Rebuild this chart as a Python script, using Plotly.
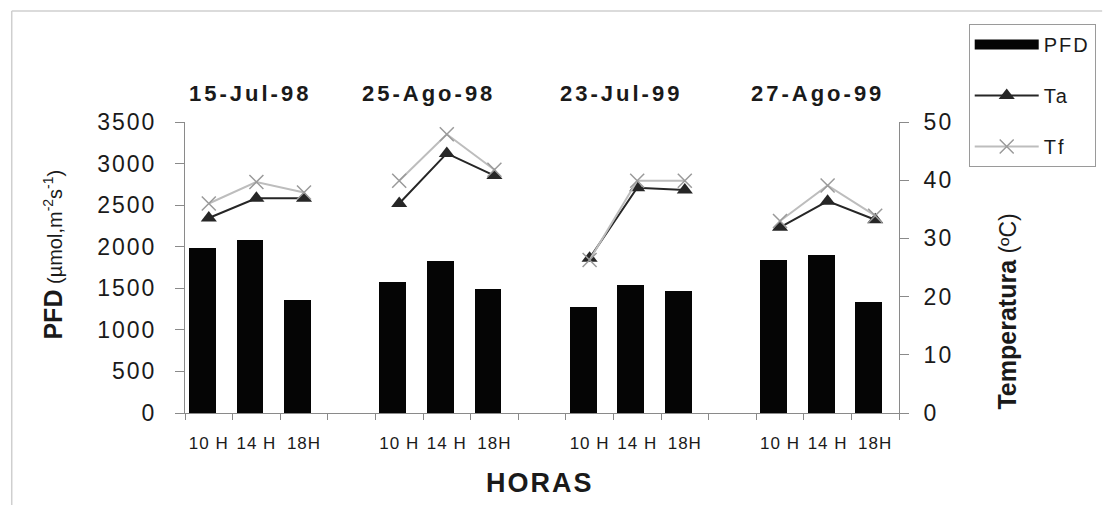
import plotly.graph_objects as go

# ---------------- data ----------------
dates = ["15-Jul-98", "25-Ago-98", "23-Jul-99", "27-Ago-99"]
hours = ["10 H", "14 H", "18H"]
pfd = [[1990, 2080, 1360],
       [1580, 1830, 1490],
       [1280, 1540, 1465],
       [1840, 1895, 1340]]
ta = [[33.5, 36.9, 36.9],
      [36.0, 44.6, 40.8],
      [26.6, 38.7, 38.3],
      [31.9, 36.4, 33.2]]
tf = [[36.0, 39.7, 37.9],
      [39.9, 47.9, 41.8],
      [26.3, 39.9, 39.9],
      [33.0, 39.1, 33.9]]
pfd_ticks = [0, 500, 1000, 1500, 2000, 2500, 3000, 3500]
temp_ticks = [0, 10, 20, 30, 40, 50]

# ---------------- build positions (3 hours + 1 blank slot per date) ----------------
slots = len(hours) + 1
xs, pfd_v, ta_v, tf_v, labels = [], [], [], [], []
for g in range(len(dates)):
    for h in range(len(hours)):
        xs.append(g * slots + h + 0.5)
        pfd_v.append(pfd[g][h])
        ta_v.append(ta[g][h])
        tf_v.append(tf[g][h])
        labels.append(hours[h])
    if g < len(dates) - 1:
        xs.append(g * slots + len(hours) + 0.5)
        pfd_v.append(None)
        ta_v.append(None)
        tf_v.append(None)
        labels.append("")
n_slots = len(dates) * slots - 1

FONT = "Arial, Liberation Sans, sans-serif"
TXT = "#1a1a1a"
AX = "#8a8a8a"

def spaced(t, sp):
    return f"<span style='letter-spacing:{sp}px'>{t}</span>"

fig = go.Figure()
fig.add_trace(go.Bar(
    x=xs, y=pfd_v, name="PFD", width=0.56, offset=-0.415,
    marker=dict(color="#050505", line=dict(width=0)),
    showlegend=False, yaxis="y"))
# legend entry for PFD drawn as a wide black block (like the original key)
fig.add_trace(go.Scatter(
    x=[None], y=[None], name=spaced("PFD", 2), mode="lines",
    line=dict(color="#050505", width=13), legendgroup="a", yaxis="y"))
fig.add_trace(go.Scatter(
    x=xs, y=ta_v, name=spaced("Ta", 2), mode="lines+markers", connectgaps=False,
    line=dict(color="#262626", width=2),
    marker=dict(symbol="triangle-up", size=14, color="#262626"),
    legendgroup="b", yaxis="y2"))
fig.add_trace(go.Scatter(
    x=xs, y=tf_v, name=spaced("Tf", 2), mode="lines+markers", connectgaps=False,
    line=dict(color="#bdbdbd", width=2),
    marker=dict(symbol="x-thin", size=14, line=dict(color="#9a9a9a", width=1.5)),
    legendgroup="c", yaxis="y2"))

# plot area in pixels
L, R, T, B = 185, 902, 122, 413
W, H = 1108, 505
def px(xp):
    return (xp - L) / (R - L)
def py(yp):
    return (B - yp) / (B - T)

tickx = [x for x, l in zip(xs, labels) if l]
tickt = [spaced(l, 1) for l in labels if l]

fig.update_layout(
    width=W, height=H,
    margin=dict(l=L, r=W - R, t=T, b=H - B, pad=0),
    paper_bgcolor="white", plot_bgcolor="white",
    font=dict(family=FONT, color=TXT),
    showlegend=True,
    bargap=0,
    xaxis=dict(
        range=[0, n_slots], tickmode="array", tickvals=tickx, ticktext=tickt,
        ticks="", ticklabelstandoff=15, tickfont=dict(size=17, color=TXT),
        showline=True, linecolor=AX, linewidth=1, showgrid=False, zeroline=False,
        automargin=False,
        minor=dict(tickvals=list(range(0, n_slots + 1)), ticks="outside",
                   ticklen=6, tickcolor=AX, tickwidth=1, showgrid=False),
    ),
    yaxis=dict(
        range=[0, 3500], tickmode="array", tickvals=pfd_ticks,
        ticktext=[spaced(v, 2) for v in pfd_ticks],
        ticks="outside", ticklen=9,
        tickcolor=AX, ticklabelstandoff=14, tickfont=dict(size=23, color=TXT),
        showline=True, linecolor=AX, linewidth=1, showgrid=False, zeroline=False,
        automargin=False,
    ),
    yaxis2=dict(
        range=[0, 50], tickmode="array", tickvals=temp_ticks,
        ticktext=[spaced(v, 2) for v in temp_ticks],
        overlaying="y", side="right",
        ticks="outside", ticklen=9, tickcolor=AX, ticklabelstandoff=10,
        tickfont=dict(size=23, color=TXT),
        showline=True, linecolor=AX, linewidth=1, showgrid=False, zeroline=False,
        automargin=False,
    ),
    legend=dict(
        x=px(972), y=py(24), xanchor="left", yanchor="top",
        bordercolor="#9a9a9a", borderwidth=1, bgcolor="white",
        font=dict(size=20, color=TXT), traceorder="grouped", tracegroupgap=22,
        itemwidth=64,
    ),
)

annotations = []
title_px = [250, 430, 623, 820]
for d, xp in zip(dates, title_px):
    annotations.append(dict(
        text=f"<b>{spaced(d, 3)}</b>", x=px(xp), y=py(94), xref="paper", yref="paper",
        xanchor="center", yanchor="middle", showarrow=False,
        font=dict(size=22, color=TXT)))
annotations.append(dict(
    text=f"<b>{spaced('HORAS', 2)}</b>", x=px(541), y=py(483), xref="paper", yref="paper",
    xanchor="center", yanchor="middle", showarrow=False,
    font=dict(size=27, color=TXT)))
annotations.append(dict(
    text="<b>PFD</b><span style='font-size:20px'> (µmol,m<sup>-2</sup>s<sup>-1</sup>)</span>",
    x=px(52), y=py(255), xref="paper", yref="paper", textangle=-90,
    xanchor="center", yanchor="middle", showarrow=False,
    font=dict(size=25, color=TXT)))
annotations.append(dict(
    text="<b>Temperatura</b><span style='font-size:23px'> (ºC)</span>",
    x=px(1010), y=py(312), xref="paper", yref="paper", textangle=-90,
    xanchor="center", yanchor="middle", showarrow=False,
    font=dict(size=25, color=TXT)))
fig.update_layout(annotations=annotations)

# outer chart frame (top and left edges visible in the scan)
fig.add_shape(type="line", xref="paper", yref="paper",
              x0=px(11), x1=px(1106), y0=py(11), y1=py(11),
              line=dict(color="#cfcfcf", width=1.5))
fig.add_shape(type="line", xref="paper", yref="paper",
              x0=px(11), x1=px(11), y0=py(11), y1=py(505),
              line=dict(color="#cfcfcf", width=1.5))

fig.write_html("out.html", config={"displayModeBar": False},
               post_script="document.body.style.margin='0px';document.body.style.overflow='hidden';")
